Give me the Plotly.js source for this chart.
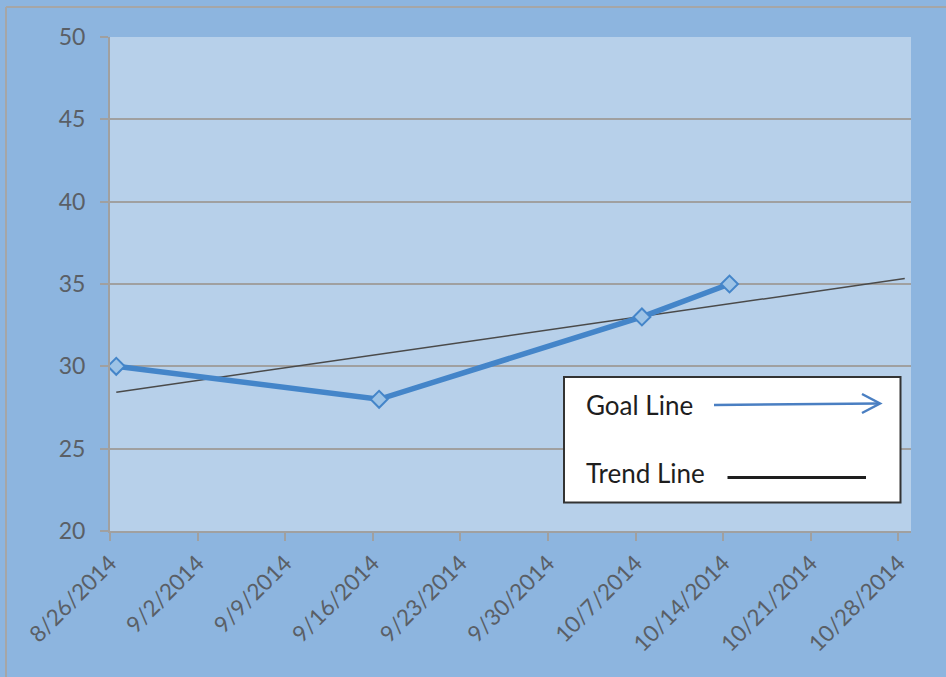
<!DOCTYPE html>
<html>
<head>
<meta charset="utf-8">
<script src="https://cdn.plot.ly/plotly-3.0.1.min.js"></script>
<style>
html,body{margin:0;padding:0;background:#8DB5DF;}
#chart{width:946px;height:677px;}
</style>
</head>
<body>
<div id="chart"></div>
<script>
// ---- data ----
const goalDates = ['2014-08-26', '2014-09-16', '2014-10-07', '2014-10-14'];
const goalValues = [30, 28, 33, 35];
const trendDates = ['2014-08-26', '2014-10-28'];
const trendValues = [28.43, 35.33];
const legendLabels = ['Goal Line', 'Trend Line'];
const xRange = ['2014-08-26', '2014-10-29'];
const yRange = [20, 50];

// points sit in the middle of their day (Excel date axis, between tick marks)
const midDay = d => d + ' 12:00';

// plot area pixel geometry -> paper coordinates for the drawn legend box
const L = 110, R = 911, T = 37, B = 531, W = 946, H = 677;
const px = x => (x - L) / (R - L);
const py = y => (B - y) / (B - T);

const traces = [
  {
    x: trendDates.map(midDay), y: trendValues, type: 'scatter', mode: 'lines',
    line: {color: '#4a4a4a', width: 1.5}, hoverinfo: 'skip', showlegend: false
  },
  {
    x: goalDates.map(midDay), y: goalValues, type: 'scatter', mode: 'lines+markers',
    line: {color: '#4485C9', width: 5.5},
    marker: {symbol: 'diamond', size: 13, color: '#9DC3E6', line: {color: '#4485C9', width: 2}},
    showlegend: false
  }
];

const gray = '#A0A0A0';
const layout = {
  width: W, height: H,
  margin: {l: L, r: W - R, t: T, b: H - B, pad: 0},
  paper_bgcolor: '#8DB5DF',
  plot_bgcolor: '#B7D0EA',
  font: {family: 'Lato, "Open Sans", sans-serif', color: '#595959'},
  showlegend: false,
  xaxis: {
    type: 'date', range: xRange, autorange: false,
    tick0: xRange[0], dtick: 7 * 86400000, tickformat: '%-m/%-d/%Y',
    tickangle: -45, tickfont: {size: 22.5, color: '#5A5F66'},
    ticks: 'outside', ticklen: 8, tickwidth: 2, tickcolor: gray,
    showgrid: false, zeroline: false,
    showline: true, linecolor: gray, linewidth: 2
  },
  yaxis: {
    range: yRange, autorange: false, dtick: 5, tick0: 20,
    tickfont: {size: 23, color: '#5A5F66'},
    ticks: 'outside', ticklen: 8, tickwidth: 2, tickcolor: gray,
    ticklabelstandoff: 10,
    showgrid: true, gridcolor: gray, gridwidth: 2,
    zeroline: false, showline: true, linecolor: gray, linewidth: 2
  },
  shapes: [
    // chart border (left & top edges)
    {type: 'line', xref: 'paper', yref: 'paper', x0: px(6), x1: px(6), y0: py(H + 5), y1: py(7), line: {color: '#A6A6A6', width: 2}},
    {type: 'line', xref: 'paper', yref: 'paper', x0: px(6), x1: px(W + 5), y0: py(7), y1: py(7), line: {color: '#A6A6A6', width: 2}},
    // legend box
    {type: 'rect', xref: 'paper', yref: 'paper', x0: px(564), x1: px(900.5), y0: py(502.5), y1: py(377),
     fillcolor: '#FFFFFF', line: {color: '#333333', width: 2}},
    // goal line arrow
    {type: 'line', xref: 'paper', yref: 'paper', x0: px(714), x1: px(878), y0: py(405), y1: py(403.5),
     line: {color: '#4A7FC2', width: 2.5}},
    {type: 'path', xref: 'paper', yref: 'paper',
     path: 'M ' + px(862) + ' ' + py(394) + ' L ' + px(880) + ' ' + py(403.5) + ' L ' + px(862) + ' ' + py(413),
     line: {color: '#4A7FC2', width: 2.5}},
    // trend line sample
    {type: 'line', xref: 'paper', yref: 'paper', x0: px(727.5), x1: px(866), y0: py(477.5), y1: py(477.5),
     line: {color: '#1E1E1E', width: 3}}
  ],
  annotations: [
    {xref: 'paper', yref: 'paper', x: px(584), y: py(405), xanchor: 'left', yanchor: 'middle',
     text: legendLabels[0], showarrow: false, font: {size: 26, color: '#1E1E1E', family: 'Lato, sans-serif'}},
    {xref: 'paper', yref: 'paper', x: px(584), y: py(473), xanchor: 'left', yanchor: 'middle',
     text: legendLabels[1], showarrow: false, font: {size: 26, color: '#1E1E1E', family: 'Lato, sans-serif'}}
  ]
};

Plotly.newPlot('chart', traces, layout, {displayModeBar: false, staticPlot: true});
</script>
</body>
</html>
